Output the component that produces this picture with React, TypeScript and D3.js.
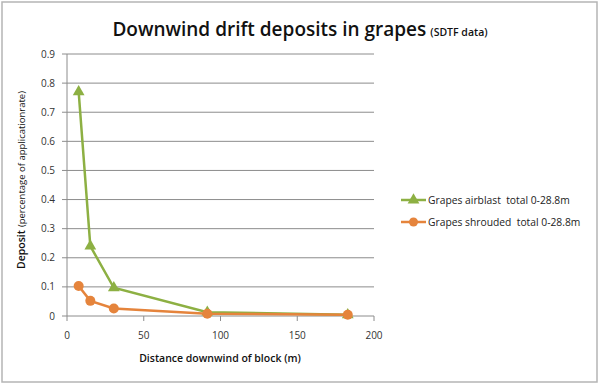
import React from "react";
import * as d3 from "d3";

const distances = [7.6, 15.2, 30.5, 91.4, 182.9];
const airblast = [0.77, 0.24, 0.097, 0.013, 0.004];
const shrouded = [0.103, 0.052, 0.026, 0.008, 0.004];
const xTicks = [0, 50, 100, 150, 200];
const yTicks = [0, 0.1, 0.2, 0.3, 0.4, 0.5, 0.6, 0.7, 0.8, 0.9];
const seriesNames = ["Grapes airblast\u00a0 total 0-28.8m", "Grapes shrouded\u00a0 total 0-28.8m"];

const GREEN = "#8DB043";
const ORANGE = "#E5843C";
const FONT = "'Open Sans', 'Noto Sans', sans-serif";

export default function App() {
  const W = 600, H = 384;
  const x = d3.scaleLinear().domain([0, 200]).range([67, 374]);
  const y = d3.scaleLinear().domain([0, 0.9]).range([316, 54]);
  const line = d3.line<[number, number]>().x(d => x(d[0])).y(d => y(d[1]));
  const aPts: [number, number][] = distances.map((d, i) => [d, airblast[i]]);
  const sPts: [number, number][] = distances.map((d, i) => [d, shrouded[i]]);
  const tri = d3.symbol().type(d3.symbolTriangle).size(60)() as string;

  return (
    <div style={{ position: "fixed", left: 0, top: 0 }}>
      <svg width={W} height={H} style={{ display: "block", fontFamily: FONT }}>
        <rect x={0} y={0} width={W} height={H} fill="#fff" />
        <rect x={2} y={2} width={595} height={380} fill="#fff" stroke="#b5b5b5" strokeWidth={1.5} />
        <text x={300} y={36} textAnchor="middle" fontFamily="'Open Sans', sans-serif">
          <tspan fontSize={19} fontWeight={600} fill="#111">Downwind drift deposits in grapes</tspan>
          <tspan fontSize={10.5} fontWeight={600} fill="#111" dx={4}>(SDTF data)</tspan>
        </text>
        {/* grid */}
        {yTicks.map(t => (
          <line key={"g" + t} x1={62} x2={374} y1={y(t)} y2={y(t)} stroke="#8c8c8c" strokeWidth={1} />
        ))}
        <line x1={67} x2={67} y1={54} y2={316} stroke="#8c8c8c" />
        {xTicks.map(t => (
          <line key={"xt" + t} x1={x(t)} x2={x(t)} y1={316} y2={321} stroke="#8c8c8c" />
        ))}
        {yTicks.map(t => (
          <text key={"yl" + t} x={55} y={y(t)} dy="0.35em" textAnchor="end" fontSize={10} fill="#333">
            {t === 0 ? "0" : d3.format(".1f")(t)}
          </text>
        ))}
        {xTicks.map(t => (
          <text key={"xl" + t} x={x(t)} y={335} dy="0.35em" textAnchor="middle" fontSize={10} fill="#333">
            {t}
          </text>
        ))}
        <text x={220} y={362} textAnchor="middle" fontSize={10.5} fontWeight={600} fill="#111">
          Distance downwind of block (m)
        </text>
        <text transform="translate(25,180) rotate(-90)" textAnchor="middle" fill="#111">
          <tspan fontSize={10.5} fontWeight={600}>Deposit</tspan>
          <tspan fontSize={9.5} dx={3}>(percentage of applicationrate)</tspan>
        </text>
        {/* series */}
        <path d={line(aPts) as string} fill="none" stroke={GREEN} strokeWidth={2.5} />
        {aPts.map((p, i) => (
          <path key={"a" + i} d={tri} transform={`translate(${x(p[0])},${y(p[1])})`} fill={GREEN} />
        ))}
        <path d={line(sPts) as string} fill="none" stroke={ORANGE} strokeWidth={2.5} />
        {sPts.map((p, i) => (
          <circle key={"s" + i} cx={x(p[0])} cy={y(p[1])} r={5} fill={ORANGE} />
        ))}
        {/* legend */}
        <line x1={401} x2={426} y1={200} y2={200} stroke={GREEN} strokeWidth={2.5} />
        <path d={tri} transform="translate(413.5,200)" fill={GREEN} />
        <text x={428} y={200} dy="0.35em" fontSize={10.3} fill="#222">{seriesNames[0]}</text>
        <line x1={401} x2={426} y1={222} y2={222} stroke={ORANGE} strokeWidth={2.5} />
        <circle cx={413.5} cy={222} r={4.5} fill={ORANGE} />
        <text x={428} y={222} dy="0.35em" fontSize={10.3} fill="#222">{seriesNames[1]}</text>
      </svg>
    </div>
  );
}
